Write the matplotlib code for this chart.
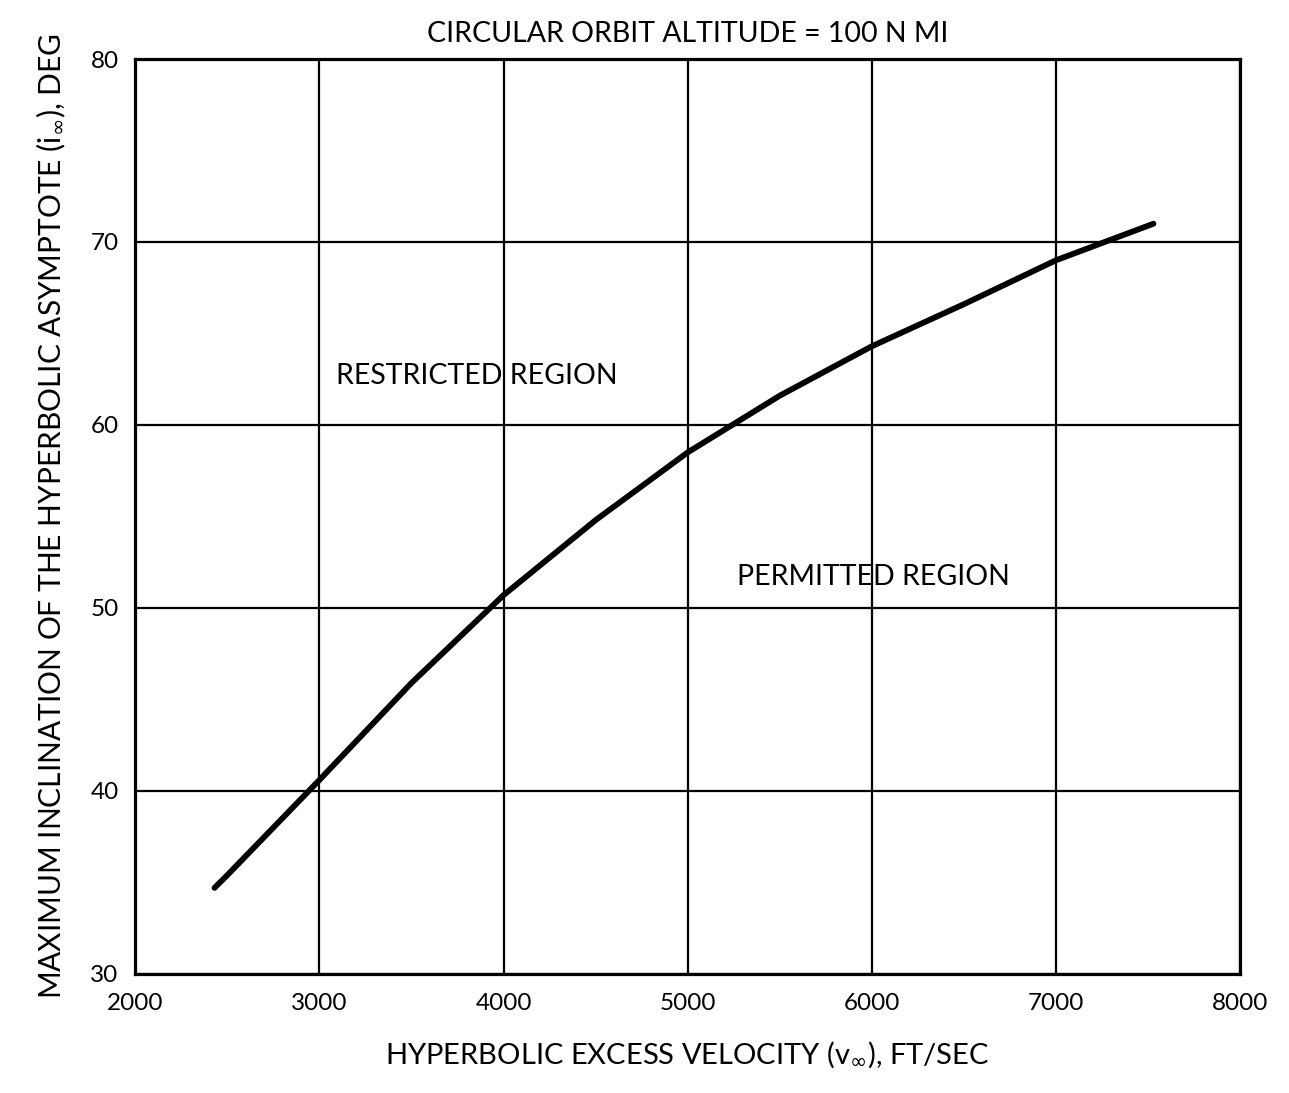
import matplotlib
matplotlib.use("Agg")
import matplotlib.pyplot as plt

# velocity (ft/sec) vs maximum asymptote inclination (deg)
velocity = [2430, 2500, 3000, 3500, 4000, 4500, 5000, 5500, 6000, 6500, 7000, 7530]
inclination = [34.7, 35.4, 40.6, 45.9, 50.7, 54.8, 58.5, 61.6, 64.3, 66.6, 69.0, 71.0]

x_ticks = [2000, 3000, 4000, 5000, 6000, 7000, 8000]
y_ticks = [30, 40, 50, 60, 70, 80]

plt.rcParams["font.family"] = ["Lato", "DejaVu Sans"]
plt.rcParams["mathtext.fontset"] = "dejavusans"

fig = plt.figure(figsize=(12.89, 10.93), dpi=100)
ax = fig.add_axes([0.105, 0.109, 0.857, 0.837])

ax.plot(velocity, inclination, color="black", linewidth=4.2,
        solid_capstyle="round", solid_joinstyle="round")

ax.set_xlim(2000, 8000)
ax.set_ylim(30, 80)
ax.set_xticks(x_ticks)
ax.set_yticks(y_ticks)
ax.grid(True, color="black", linewidth=1.6)
ax.tick_params(length=0, labelsize=17.5)
ax.tick_params(axis="x", pad=14)
ax.tick_params(axis="y", pad=12)
for spine in ax.spines.values():
    spine.set_linewidth(2.3)

ax.text(3090, 62.7, "RESTRICTED REGION", fontsize=20.5, va="center", ha="left")
ax.text(5270, 51.7, "PERMITTED REGION", fontsize=20.5, va="center", ha="left")

ax.set_xlabel(r"HYPERBOLIC EXCESS VELOCITY (v$_{\infty}$), FT/SEC", fontsize=21, labelpad=18)
ax.set_ylabel(r"MAXIMUM INCLINATION OF THE HYPERBOLIC ASYMPTOTE (i$_{\infty}$), DEG",
              fontsize=21.5, labelpad=16)
ax.set_title("CIRCULAR ORBIT ALTITUDE = 100 N MI", fontsize=20.5, pad=12)

fig.savefig("out.png", dpi=100)
